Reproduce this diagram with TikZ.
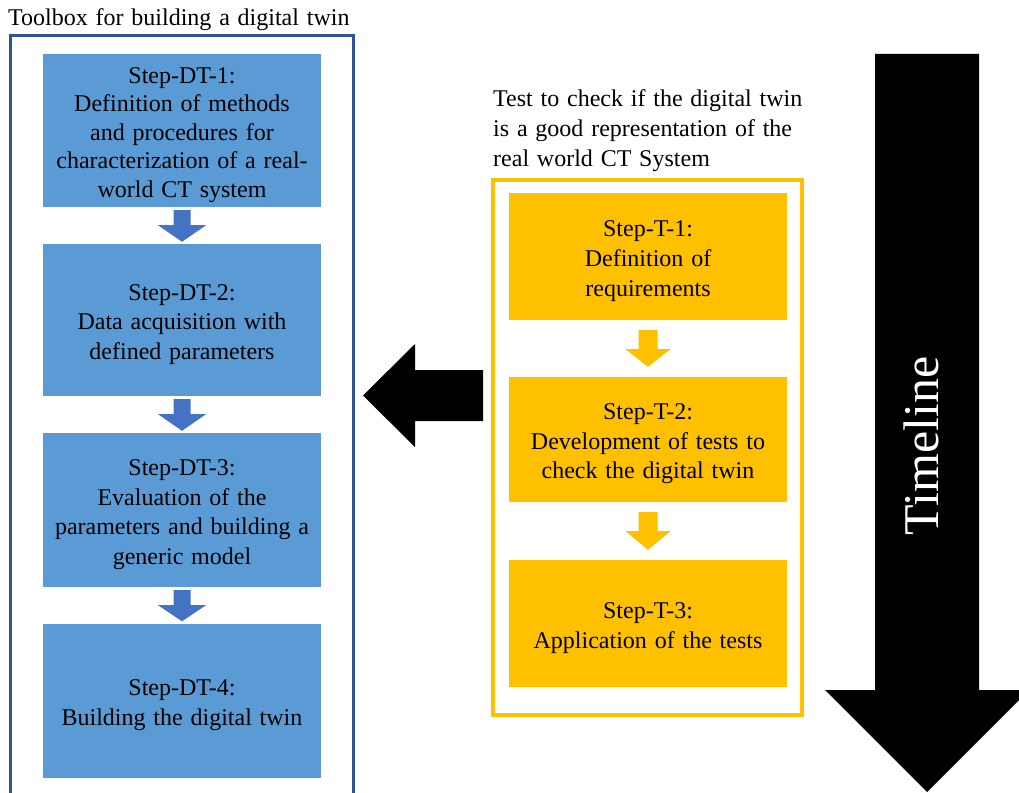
\documentclass[tikz,border=0pt]{standalone}
\usepackage{fontspec}
\setmainfont{Liberation Serif}[WordSpace=1.3]
\usetikzlibrary{calc}
\definecolor{bluebox}{HTML}{5B9BD5}
\definecolor{bluearrow}{HTML}{4472C4}
\definecolor{blueframe}{HTML}{2F5597}
\definecolor{gold}{HTML}{FFC000}
\newcommand\topstrut{\rule{0pt}{25pt}}
\newcommand\blockdown[8]{%
  \fill[#3] ($(#1.south)+(-#4,#6)$) -- ($(#1.south)+(#4,#6)$) -- ($(#1.south)+(#4,#7)$)
    -- ($(#1.south)+(#5,#7)$) -- ($(#2.north)+(0,-#8)$) -- ($(#1.south)+(-#5,#7)$)
    -- ($(#1.south)+(-#4,#7)$) -- cycle;}
\begin{document}
\begin{tikzpicture}[x=1pt,y=-1pt,
  txt/.style={font=\fontsize{24}{29.5}\selectfont},
  dtbox/.style={txt, rectangle, fill=bluebox, minimum width=278pt, align=center, inner sep=0pt, text=black},
  tbox/.style={txt, rectangle, fill=gold, minimum width=278pt, align=center, inner sep=0pt, text=black},
  heading/.style={font=\fontsize{24}{30}\selectfont, inner sep=0pt, align=left}]
\useasboundingbox (0,0) rectangle (1019,792);
\clip (0,0) rectangle (1019,792);

% left group
\node[heading, anchor=base west] (ttl1) at (8,26) {Toolbox for building a digital twin};
\draw[blueframe, line width=3pt] (10,800) -- (10,36) -- (353,36) -- (353,800);
\node[dtbox, minimum height=153pt, font=\fontsize{24}{28.5}\selectfont] (dt1) at (182,130.5) {\topstrut Step-DT-1:\\Definition of methods\\and procedures for\\characterization of a real-\\world CT system};
\node[dtbox, minimum height=152pt] (dt2) at (182,320) {\topstrut Step-DT-2:\\Data acquisition with\\defined parameters};
\node[dtbox, minimum height=154pt] (dt3) at (182,510) {\topstrut Step-DT-3:\\Evaluation of the\\parameters and building a\\generic model};
\node[dtbox, minimum height=154pt] (dt4) at (182,700.5) {\topstrut Step-DT-4:\\Building the digital twin};
\blockdown{dt1}{dt2}{bluearrow}{8.5}{24}{3}{18}{2}
\blockdown{dt2}{dt3}{bluearrow}{8.5}{24}{3}{18}{2}
\blockdown{dt3}{dt4}{bluearrow}{8.5}{24}{3}{18}{2}

% right group
\node[heading, anchor=north west] (ttl2) at (493,89) {Test to check if the digital twin\\is a good representation of the\\real world CT System};
\node[draw=gold, line width=3.5pt, minimum width=309pt, minimum height=535pt, inner sep=0pt] (tframe) at (647.5,447.5) {};
\node[tbox, minimum height=127pt, font=\fontsize{24}{30}\selectfont] (t1) at (648,256.5) {\topstrut Step-T-1:\\Definition of\\requirements};
\node[tbox, minimum height=125pt] (t2) at (648,439.5) {\topstrut Step-T-2:\\Development of tests to\\check the digital twin};
\node[tbox, minimum height=127pt] (t3) at (648,623.5) {\topstrut Step-T-3:\\Application of the tests};
\blockdown{t1}{t2}{gold}{9.5}{22.5}{10}{29}{10}
\blockdown{t2}{t3}{gold}{9.5}{22.5}{10}{29}{10}

% arrow from test group to toolbox
\coordinate (ltip) at (363,395.5);
\fill[black] (483,370) -- (415,370) -- (415,344) -- (ltip) -- (415,447) -- (415,421) -- (483,421) -- cycle;

% timeline arrow
\coordinate (ttip) at (927,792);
\fill[black] (875,54) -- (979,54) -- (979,690) -- (1029,690) -- (ttip) -- (825,690) -- (875,690) -- cycle;
\node[rotate=90, text=white, font=\fontsize{50}{60}\selectfont, inner sep=0pt] (tl) at (921,446) {Timeline};
\end{tikzpicture}
\end{document}
